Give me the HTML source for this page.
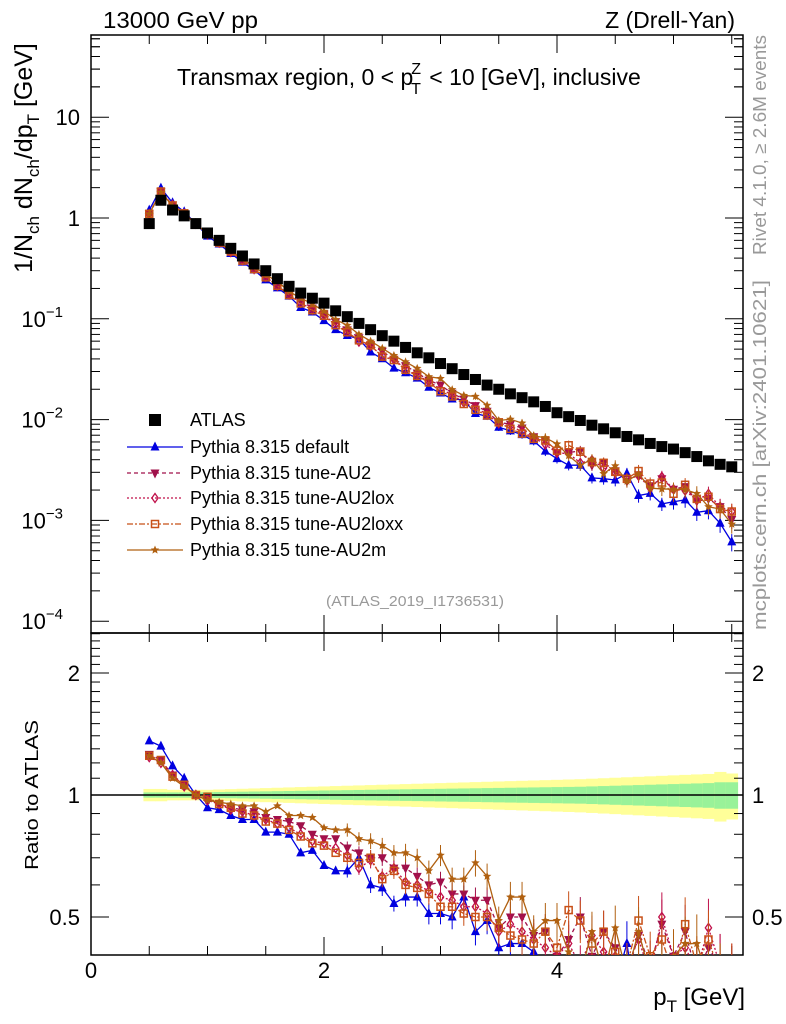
<!DOCTYPE html>
<html><head><meta charset="utf-8"><style>
html,body{margin:0;padding:0;background:#fff;overflow:hidden;width:786px;height:1024px;}
svg{display:block;font-family:"Liberation Sans",sans-serif;}
</style></head><body>
<svg id="chart" width="786" height="1024" viewBox="0 0 786 1024" xmlns="http://www.w3.org/2000/svg">
<g id="bands"></g>
<g id="axes"></g>
<g id="series"></g>
<text x="103" y="28" font-size="23" textLength="155" lengthAdjust="spacingAndGlyphs">13000 GeV pp</text>
<text x="735" y="28" font-size="23" text-anchor="end">Z (Drell-Yan)</text>
<text x="177" y="85" font-size="23">Transmax region, 0 &lt; p<tspan font-size="16" dy="-11" dx="-2">Z</tspan><tspan font-size="16" dy="20" dx="-10">T</tspan><tspan dy="-9" dx="2"> &lt; 10 [GeV], inclusive</tspan></text>
<text x="415" y="606" font-size="15" fill="#999" text-anchor="middle" textLength="178" lengthAdjust="spacingAndGlyphs">(ATLAS_2019_I1736531)</text>
<text transform="translate(766,145) rotate(-90)" font-size="18" fill="#999" text-anchor="middle" textLength="220" lengthAdjust="spacingAndGlyphs">Rivet 4.1.0, ≥ 2.6M events</text>
<text transform="translate(766,455) rotate(-90)" font-size="18" fill="#999" text-anchor="middle" textLength="350" lengthAdjust="spacingAndGlyphs">mcplots.cern.ch [arXiv:2401.10621]</text>
<text transform="translate(32,158) rotate(-90)" font-size="25" text-anchor="middle">1/N<tspan font-size="17" dy="7">ch</tspan><tspan dy="-7"> dN</tspan><tspan font-size="17" dy="7">ch</tspan><tspan dy="-7">/dp</tspan><tspan font-size="17" dy="7">T</tspan><tspan dy="-7"> [GeV]</tspan></text>
<text transform="translate(38,795) rotate(-90)" font-size="18" text-anchor="middle" textLength="150" lengthAdjust="spacingAndGlyphs">Ratio to ATLAS</text>
<text x="745" y="1005" font-size="24" text-anchor="end">p<tspan font-size="17" dy="7">T</tspan><tspan dy="-7"> [GeV]</tspan></text>
<g id="legend"></g>
</svg>
<script>
const xs = [];
for (let i = 0; i <= 50; i++) xs.push(+(0.5 + 0.1 * i).toFixed(1));
const atlas = [0.88,1.5,1.2,1.05,0.88,0.71,0.6,0.5,0.42,0.35,0.30,0.25,0.21,0.18,0.16,0.143,0.12,0.105,0.09,0.078,0.068,0.06,0.052,0.046,0.041,0.036,0.032,0.028,0.025,0.022,0.020,0.018,0.0165,0.015,0.0135,0.0117,0.0107,0.0098,0.0088,0.0081,0.0074,0.0068,0.0063,0.0058,0.0054,0.0051,0.0047,0.0043,0.0039,0.0036,0.0034];
const rDefault = [1.36,1.32,1.18,1.1,1.0,0.93,0.92,0.89,0.87,0.87,0.81,0.81,0.80,0.72,0.73,0.67,0.65,0.65,0.70,0.60,0.59,0.54,0.56,0.56,0.51,0.51,0.50,0.56,0.46,0.49,0.42,0.43,0.43,0.41,0.36,0.35,0.33,0.36,0.30,0.32,0.34,0.43,0.28,0.32,0.27,0.30,0.34,0.28,0.32,0.26,0.18];
const rAU2 = [1.26,1.22,1.12,1.06,1.0,0.98,0.95,0.93,0.92,0.91,0.88,0.87,0.86,0.84,0.80,0.78,0.78,0.74,0.72,0.70,0.70,0.66,0.66,0.63,0.60,0.61,0.57,0.57,0.55,0.55,0.47,0.50,0.50,0.45,0.46,0.40,0.44,0.50,0.40,0.46,0.42,0.36,0.45,0.38,0.48,0.40,0.46,0.36,0.42,0.38,0.30];
const rAU2lox = [1.24,1.2,1.12,1.05,1.0,0.97,0.95,0.92,0.91,0.89,0.87,0.85,0.83,0.80,0.77,0.76,0.74,0.71,0.66,0.69,0.63,0.66,0.61,0.60,0.58,0.56,0.55,0.53,0.53,0.51,0.46,0.48,0.46,0.44,0.42,0.40,0.43,0.38,0.45,0.41,0.40,0.38,0.44,0.36,0.50,0.40,0.42,0.37,0.47,0.38,0.36];
const rAU2loxx = [1.25,1.22,1.11,1.06,1.0,0.99,0.95,0.93,0.90,0.89,0.86,0.85,0.82,0.79,0.76,0.75,0.72,0.70,0.68,0.70,0.62,0.65,0.60,0.59,0.57,0.53,0.53,0.51,0.50,0.50,0.47,0.45,0.44,0.43,0.46,0.42,0.52,0.49,0.43,0.46,0.41,0.38,0.49,0.40,0.44,0.36,0.48,0.38,0.44,0.36,0.36];
const rAU2m = [1.25,1.2,1.1,1.05,1.0,0.97,0.96,0.95,0.94,0.94,0.91,0.94,0.89,0.89,0.88,0.83,0.82,0.82,0.78,0.77,0.75,0.72,0.72,0.70,0.65,0.71,0.62,0.62,0.68,0.63,0.49,0.56,0.56,0.46,0.49,0.49,0.41,0.36,0.46,0.36,0.47,0.36,0.46,0.36,0.38,0.40,0.43,0.43,0.35,0.36,0.27];
const relErr = [0.01,0.01,0.01,0.01,0.01,0.01,0.01,0.01,0.01,0.015,0.015,0.015,0.015,0.02,0.02,0.02,0.02,0.025,0.025,0.03,0.03,0.03,0.035,0.035,0.04,0.04,0.045,0.045,0.05,0.05,0.055,0.06,0.06,0.065,0.07,0.07,0.075,0.08,0.08,0.085,0.09,0.09,0.1,0.1,0.1,0.11,0.11,0.12,0.12,0.13,0.13];
const bandIn = [0.015,0.015,0.015,0.015,0.015,0.016,0.017,0.018,0.019,0.02,0.021,0.022,0.023,0.024,0.025,0.026,0.027,0.028,0.029,0.03,0.031,0.032,0.033,0.034,0.035,0.036,0.037,0.038,0.039,0.04,0.041,0.042,0.043,0.044,0.045,0.046,0.047,0.048,0.05,0.052,0.054,0.056,0.058,0.06,0.062,0.064,0.066,0.068,0.07,0.075,0.075];
const bandOut = [0.035,0.035,0.03,0.03,0.03,0.03,0.032,0.034,0.036,0.038,0.04,0.042,0.044,0.046,0.048,0.05,0.052,0.054,0.056,0.058,0.06,0.062,0.064,0.066,0.068,0.07,0.072,0.074,0.076,0.078,0.08,0.082,0.084,0.086,0.088,0.09,0.092,0.094,0.097,0.1,0.103,0.106,0.109,0.112,0.115,0.118,0.121,0.124,0.127,0.14,0.13];
const seriesNames = ["Pythia 8.315 default","Pythia 8.315 tune-AU2","Pythia 8.315 tune-AU2lox","Pythia 8.315 tune-AU2loxx","Pythia 8.315 tune-AU2m"];
const seriesRatios = [rDefault,rAU2,rAU2lox,rAU2loxx,rAU2m];
const seriesColors = ["#0000e0","#a0104a","#c0104a","#c85018","#b06010"];
const seriesMarkers = ["tri","tridown","diamond","square","star"];
const seriesDash = ["","4,3","2,2","6,2,2,2",""];

const NS="http://www.w3.org/2000/svg";
const X0=91,X1=743,MT=35,MB=633,RT=633,RB=955;
const sx=v=>X0+v*116.5;
const sy=v=>218-Math.log10(v)*100.8;
const sr=v=>795-Math.log2(v)*122;
function mk(p,tag,at){const e=document.createElementNS(NS,tag);for(const k in at)e.setAttribute(k,at[k]);p.appendChild(e);return e;}
const axes=document.getElementById('axes'),bands=document.getElementById('bands'),ser=document.getElementById('series'),leg=document.getElementById('legend');

for(let i=0;i<xs.length;i++){
  const xa=sx(xs[i]-0.05),xb=sx(xs[i]+0.05);
  let r=mk(bands,'rect',{x:xa,y:sr(1+bandOut[i]),width:xb-xa+0.5,height:sr(1-bandOut[i])-sr(1+bandOut[i]),fill:'#ffff99'});
  
  
  r=mk(bands,'rect',{x:xa,y:sr(1+bandIn[i]),width:xb-xa+0.5,height:sr(1-bandIn[i])-sr(1+bandIn[i]),fill:'#99f299'});
  
  
}
mk(axes,'line',{x1:X0,x2:X1,y1:sr(1),y2:sr(1),stroke:'#000','stroke-width':1.5});
mk(axes,'rect',{x:X0,y:MT,width:X1-X0,height:MB-MT,fill:'none',stroke:'#000','stroke-width':1.5});
mk(axes,'rect',{x:X0,y:RT,width:X1-X0,height:RB-RT,fill:'none',stroke:'#000','stroke-width':1.5});
for(let v=0;v<=5.61;v+=0.5){
  const X=sx(v),maj=Math.abs(v-Math.round(v/2)*2)<1e-6,L=maj?18:9;
  [[MT,1],[MB,-1],[RT,1],[RB,-1]].forEach(([y,d])=>mk(axes,'line',{x1:X,x2:X,y1:y,y2:y+d*L,stroke:'#000','stroke-width':1}));
  if(maj){const t=mk(axes,'text',{x:X,y:978,'font-size':22,'text-anchor':'middle'});t.textContent=Math.round(v);
    
    }
}
for(let e=-4;e<=1;e++){for(let m=1;m<=9;m++){const v=m*Math.pow(10,e);const Y=sy(v);if(Y<MT||Y>MB)continue;const L=m==1?18:9;
  mk(axes,'line',{x1:X0,x2:X0+L,y1:Y,y2:Y,stroke:'#000'});mk(axes,'line',{x1:X1,x2:X1-L,y1:Y,y2:Y,stroke:'#000'});}}
for(let e=2;e<=9;e++){const Y=sy(e*10);if(Y>=MT){mk(axes,'line',{x1:X0,x2:X0+9,y1:Y,y2:Y,stroke:'#000'});mk(axes,'line',{x1:X1,x2:X1-9,y1:Y,y2:Y,stroke:'#000'});}}
const ylab=[["10",null],["1",null],["10","−1"],["10","−2"],["10","−3"],["10","−4"]];
const yv=[10,1,0.1,0.01,0.001,0.0001];
yv.forEach((v,i)=>{const t=mk(axes,'text',{x:80,y:sy(v)+8,'font-size':22,'text-anchor':'end'});
  
  
  if(ylab[i][1]){t.setAttribute('x',63);t.innerHTML=ylab[i][0]+'<tspan font-size="15" dy="-10">'+ylab[i][1]+'</tspan>';}else t.textContent=ylab[i][0];});
for(let v=0.4;v<=2.51;v+=0.1){const Y=sr(v);if(Y<RT||Y>RB)continue;const maj=[0.5,1,2].some(m=>Math.abs(m-v)<1e-6);const L=maj?18:9;
  mk(axes,'line',{x1:X0,x2:X0+L,y1:Y,y2:Y,stroke:'#000'});mk(axes,'line',{x1:X1,x2:X1-L,y1:Y,y2:Y,stroke:'#000'});}
[[2,"2"],[1,"1"],[0.5,"0.5"]].forEach(([v,s])=>{let t=mk(axes,'text',{x:80,y:sr(v)+8,'font-size':22,'text-anchor':'end'});t.textContent=s;
  
  
  t=mk(axes,'text',{x:752,y:sr(v)+8,'font-size':22});t.textContent=s;
  
  });

function marker(p,type,x,y,c,s){
  s=s||4.5;
  if(type=='square')return mk(p,'rect',{x:x-s,y:y-s,width:2*s,height:2*s,fill:c});
  if(type=='osquare')return mk(p,'rect',{x:x-s+1,y:y-s+1,width:2*s-2,height:2*s-2,fill:'#fff','fill-opacity':0,stroke:c,'stroke-width':1.5});
  if(type=='tri')return mk(p,'polygon',{points:`${x},${y-s-1} ${x-s},${y+s-1} ${x+s},${y+s-1}`,fill:c});
  if(type=='tridown')return mk(p,'polygon',{points:`${x},${y+s+1} ${x-s},${y-s+1} ${x+s},${y-s+1}`,fill:c});
  if(type=='diamond')return mk(p,'polygon',{points:`${x},${y-s} ${x+s*0.7},${y} ${x},${y+s} ${x-s*0.7},${y}`,fill:'none',stroke:c,'stroke-width':1.3});
  if(type=='star'){let pts=[];for(let k=0;k<10;k++){const a=-Math.PI/2+k*Math.PI/5,r=k%2?s*0.45:s;pts.push((x+r*Math.cos(a)).toFixed(1)+','+(y+r*Math.sin(a)).toFixed(1));}
    return mk(p,'polygon',{points:pts.join(' '),fill:c});}
}
const clip=mk(document.getElementById('chart'),'clipPath',{id:'rclip'});mk(clip,'rect',{x:X0,y:RT,width:X1-X0,height:RB-RT});
const clipm=mk(document.getElementById('chart'),'clipPath',{id:'mclip'});mk(clipm,'rect',{x:X0,y:MT,width:X1-X0,height:MB-MT});

seriesRatios.forEach((rr,si)=>{
  const c=seriesColors[si],mt=seriesMarkers[si]=='square'?'osquare':seriesMarkers[si];
  const gm=mk(ser,'g',{'clip-path':'url(#mclip)'});
  
  
  const gr=mk(ser,'g',{'clip-path':'url(#rclip)'});
  
  
  const pm=xs.map((x,i)=>sx(x)+','+sy(rr[i]*atlas[i])).join(' ');
  const pr=xs.map((x,i)=>sx(x)+','+sr(rr[i])).join(' ');
  const la={fill:'none',stroke:c,'stroke-width':1.3};if(seriesDash[si])la['stroke-dasharray']=seriesDash[si];
  mk(gm,'polyline',Object.assign({points:pm},la));mk(gr,'polyline',Object.assign({points:pr},la));
  xs.forEach((x,i)=>{const e=relErr[i]*1.5;const v=rr[i]*atlas[i];
    if(e>0.03){mk(gm,'line',{x1:sx(x),x2:sx(x),y1:sy(v*(1+e)),y2:sy(v*(1-e)),stroke:c});
      mk(gr,'line',{x1:sx(x),x2:sx(x),y1:sr(rr[i]*(1+e)),y2:sr(rr[i]*(1-e)),stroke:c});}
    marker(gm,mt,sx(x),sy(v),c);marker(gr,mt,sx(x),sr(rr[i]),c);});
});
const ga=mk(ser,'g',{});


xs.forEach((x,i)=>{const m=marker(ga,'square',sx(x),sy(atlas[i]),'#000',5.5);
  
  });

const ly=[420,447,473,498,524,550];
marker(leg,'square',155,ly[0],'#000',6);
let lt=mk(leg,'text',{x:190,y:ly[0]+6,'font-size':18});lt.textContent='ATLAS';


seriesNames.forEach((n,si)=>{const y=ly[si+1],c=seriesColors[si];
  const la={x1:127,x2:183,y1:y,y2:y,stroke:c,'stroke-width':1.3};if(seriesDash[si])la['stroke-dasharray']=seriesDash[si];
  mk(leg,'line',la);
  marker(leg,seriesMarkers[si]=='square'?'osquare':seriesMarkers[si],155,y,c);
  const t=mk(leg,'text',{x:190,y:y+6,'font-size':18});t.textContent=n;
  
  });
</script>
</body></html>
